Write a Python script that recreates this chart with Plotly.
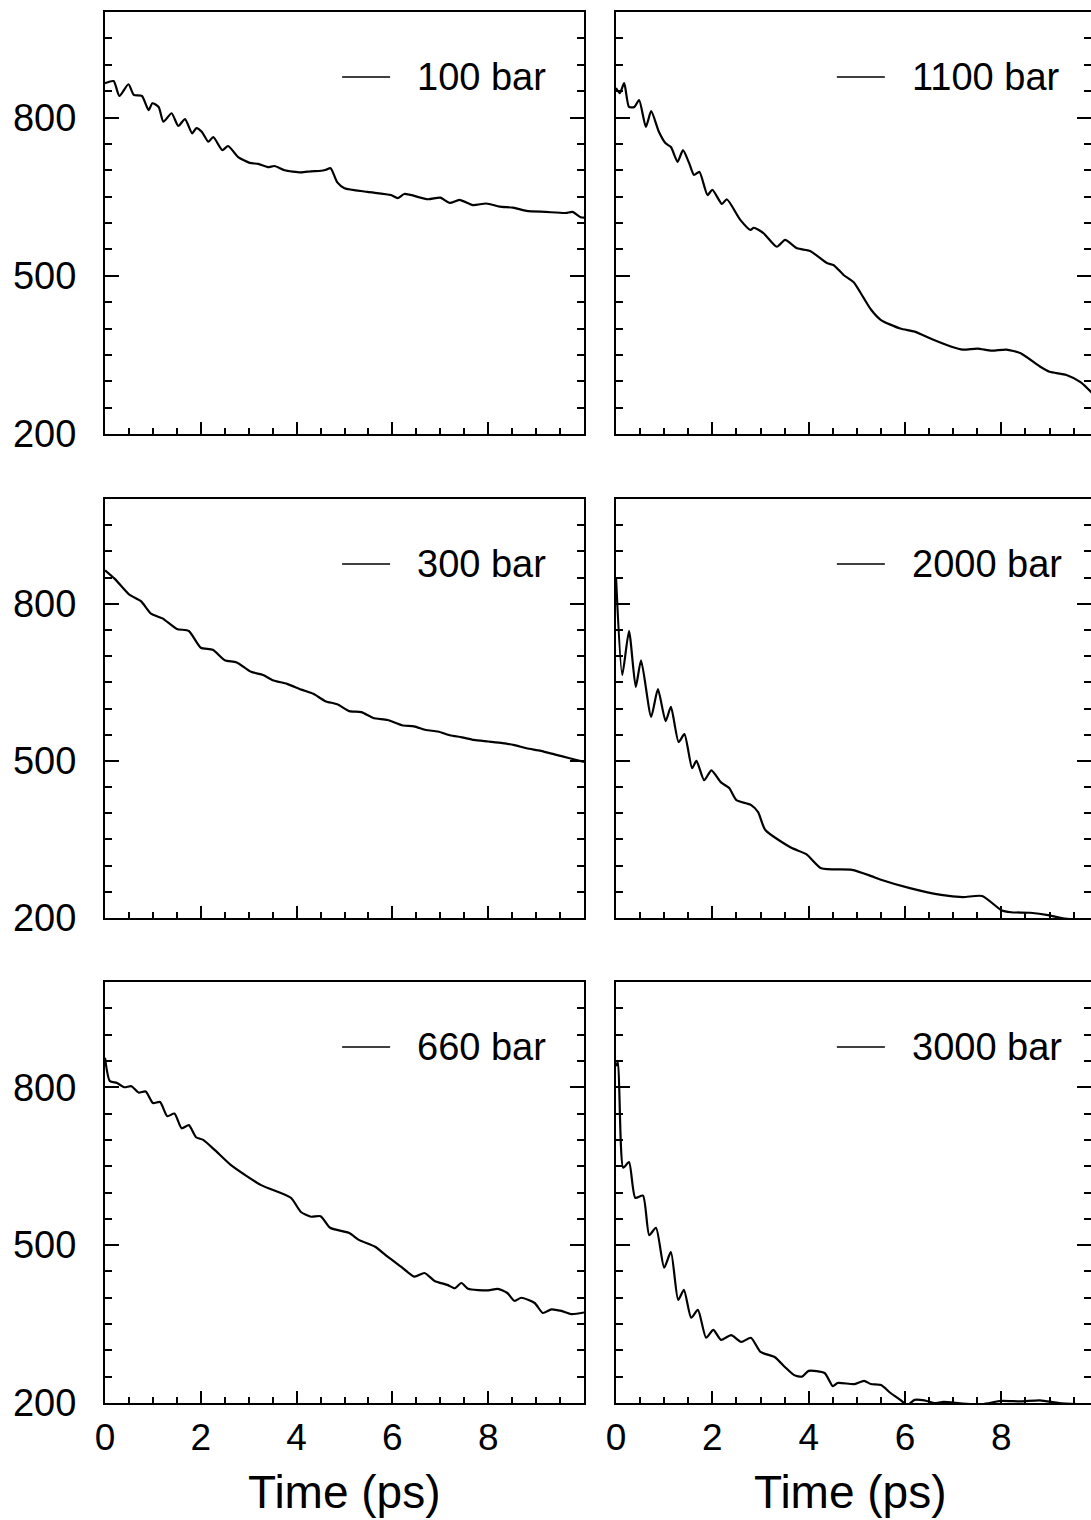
import plotly.graph_objects as go

# ---------------- data ----------------
P100_T = [0, 0.18, 0.3, 0.49, 0.6, 0.77, 0.91, 0.99, 1.12, 1.22, 1.39, 1.53, 1.67, 1.82, 1.91, 2.02,
          2.16, 2.26, 2.45, 2.57, 2.78, 3.02, 3.2, 3.4, 3.54, 3.75, 4.09, 4.3, 4.51, 4.61, 4.71, 4.85,
          5.0, 5.48, 5.97, 6.11, 6.25, 6.74, 7.0, 7.2, 7.4, 7.68, 7.96, 8.24, 8.52, 8.8, 9.2, 9.62,
          9.76, 9.93, 10.0]
P100_V = [865, 869, 841, 863, 843, 841, 814, 827, 820, 792, 808, 784, 797, 770, 780, 773,
          754, 763, 738, 746, 725, 714, 712, 706, 708, 700, 696, 698, 699, 701, 704, 677,
          666, 659, 653, 647, 655, 645, 648, 638, 644, 634, 637, 631, 629, 623, 621, 619,
          621, 611, 610]

P1100_T = [0, 0.08, 0.17, 0.27, 0.38, 0.48, 0.62, 0.73, 0.89, 1.03, 1.14, 1.28, 1.39, 1.52, 1.62,
           1.73, 1.9, 2.0, 2.2, 2.3, 2.58, 2.79, 2.86, 3.06, 3.34, 3.51, 3.76, 4.03, 4.38, 4.52,
           4.73, 4.93, 5.14, 5.3, 5.5, 5.9, 6.2, 6.55, 6.95, 7.2, 7.5, 7.8, 8.1, 8.4, 8.8, 9.0,
           9.35, 9.65, 9.9]
P1100_V = [856, 846, 865, 820, 820, 833, 782, 812, 773, 751, 744, 716, 738, 713, 691,
           697, 653, 663, 636, 645, 606, 587, 591, 581, 555, 568, 552, 547, 524, 520,
           501, 488, 458, 435, 416, 400, 394, 380, 366, 360, 362, 358, 360, 353, 328, 318,
           312, 298, 276]

P300_T = [0, 0.2, 0.5, 0.75, 0.96, 1.2, 1.5, 1.75, 2.0, 2.25, 2.5, 2.75, 3.05, 3.3, 3.5, 3.8,
          4.1, 4.35, 4.6, 4.85, 5.1, 5.35, 5.6, 5.9, 6.2, 6.45, 6.7, 6.95, 7.2, 7.45, 7.7, 8.0,
          8.3, 8.55, 8.8, 9.1, 9.4, 9.7, 10.0]
P300_V = [864, 848, 818, 805, 781, 772, 752, 748, 716, 712, 692, 688, 670, 664, 654, 647,
          636, 628, 614, 608, 595, 593, 582, 578, 568, 566, 559, 556, 549, 545, 540, 537,
          534, 530, 524, 519, 512, 505, 498]

P2000_T = [0, 0.13, 0.27, 0.41, 0.52, 0.73, 0.87, 1.03, 1.14, 1.3, 1.42, 1.58, 1.67, 1.83, 1.98,
           2.18, 2.35, 2.5, 2.8, 2.95, 3.1, 3.64, 3.95, 4.26, 4.9, 5.3, 5.5, 6.1, 6.75, 7.2, 7.6,
           8.0, 8.2, 8.6, 9.0, 9.25, 9.9]
P2000_V = [851, 664, 748, 641, 692, 584, 637, 576, 603, 536, 551, 486, 500, 463, 482,
           459, 448, 425, 416, 402, 368, 334, 322, 295, 292, 280, 273, 257, 244, 240, 242,
           215, 211, 210, 205, 200, 193]

P660_T = [0, 0.1, 0.25, 0.4, 0.55, 0.7, 0.85, 1.0, 1.15, 1.3, 1.45, 1.6, 1.75, 1.9, 2.05, 2.3,
          2.63, 3.26, 3.88, 4.09, 4.3, 4.5, 4.7, 5.1, 5.3,
          5.64, 5.9, 6.18, 6.46, 6.67, 6.88, 7.16, 7.3, 7.44, 7.58, 8.0, 8.2, 8.4, 8.55, 8.69,
          8.97, 9.14, 9.32, 9.53, 9.74, 10.0]
P660_V = [856, 812, 808, 800, 802, 790, 792, 770, 772, 745, 750, 722, 728, 705, 700, 680,
          652, 614, 590, 563, 554, 555, 533, 523, 510,
          497, 478, 459, 440, 447, 432, 424, 418, 428, 417, 414, 417, 409, 394, 400,
          390, 371, 378, 375, 369, 372]

P3000_T = [0, 0.04, 0.15, 0.27, 0.4, 0.56, 0.69, 0.83, 1.0, 1.14, 1.29, 1.41, 1.56, 1.7, 1.87,
           2.02, 2.18, 2.39, 2.6, 2.8, 3.0, 3.3, 3.5, 3.7, 3.86, 4.0, 4.33, 4.5, 4.6, 4.95,
           5.15, 5.29, 5.5, 5.7, 5.9, 6.05, 6.2, 6.4, 6.6, 6.8, 7.2, 7.6, 8.0, 8.4, 8.8, 9.2,
           9.6, 9.9]
P3000_V = [840, 848, 647, 658, 590, 594, 519, 533, 457, 487, 396, 415, 362, 377, 324,
           339, 320, 329, 316, 324, 297, 287, 269, 253, 250, 261, 257, 232, 238, 236,
           242, 236, 234, 219, 206, 196, 206, 205, 200, 202, 199, 198, 204, 203, 205, 200,
           198, 197]

SERIES = [
    ("100 bar", P100_T, P100_V),
    ("1100 bar", P1100_T, P1100_V),
    ("300 bar", P300_T, P300_V),
    ("2000 bar", P2000_T, P2000_V),
    ("660 bar", P660_T, P660_V),
    ("3000 bar", P3000_T, P3000_V),
]

Y_TICKS = [200, 500, 800]
X_TICKS = [0, 2, 4, 6, 8]
X_TITLE = "Time (ps)"

# ---------------- layout ----------------
W, H = 1091, 1520
FONT = "Liberation Sans, Arial, Helvetica, sans-serif"
COLS = [(105, 584, 10.0), (616, 1091, 9.86)]   # px left, px right, x max
ROWS = [(12, 434), (499, 918), (982, 1403)]    # px top, px bottom

fig = go.Figure()
layout = dict(template="none", width=W, height=H, margin=dict(l=0, r=0, t=0, b=0, pad=0),
              autosize=False,
              paper_bgcolor="white", plot_bgcolor="white", showlegend=False,
              font=dict(family=FONT, color="black"))
shapes = []
annotations = []

for i, (name, t, v) in enumerate(SERIES):
    r, c = divmod(i, 2)
    k = i + 1
    xa = "xaxis" if k == 1 else f"xaxis{k}"
    ya = "yaxis" if k == 1 else f"yaxis{k}"
    xr = "x" if k == 1 else f"x{k}"
    yr = "y" if k == 1 else f"y{k}"
    x0, x1, xmax = COLS[c]
    y0, y1 = ROWS[r]
    fig.add_trace(go.Scatter(x=t, y=v, mode="lines", name=name,
                             line=dict(color="black", width=2.2, shape="spline", smoothing=0.6),
                             xaxis=xr, yaxis=yr, cliponaxis=True))
    bottom = (r == 2)
    layout[xa] = dict(domain=[x0 / W, x1 / W], range=[0, xmax], anchor=yr, automargin=False,
                      showline=True, linecolor="black", linewidth=2, mirror=True,
                      showgrid=False, zeroline=False,
                      ticks="inside", ticklen=12, tickwidth=1.5, tickcolor="black",
                      tickvals=X_TICKS, showticklabels=bottom,
                      tickfont=dict(size=37, family=FONT, color="black"), ticklabelstandoff=1,
                      minor=dict(ticks="inside", ticklen=6, tickwidth=1.5, tickcolor="black",
                                 dtick=0.5, tick0=0, showgrid=False))
    layout[ya] = dict(domain=[1 - y1 / H, 1 - y0 / H], range=[200, 1000], anchor=xr, automargin=False,
                      showline=True, linecolor="black", linewidth=2, mirror="ticks",
                      showgrid=False, zeroline=False,
                      ticks="inside", ticklen=14, tickwidth=1.5, tickcolor="black",
                      tickvals=Y_TICKS, showticklabels=(c == 0),
                      tickfont=dict(size=38, family=FONT, color="black"), ticklabelstandoff=19,
                      minor=dict(ticks="inside", ticklen=7, tickwidth=1.5, tickcolor="black",
                                 dtick=50, tick0=200, showgrid=False))
    # legend entry (sample line + label) in the top-right corner of each panel
    lx = 0.495 if c == 0 else 0.465
    shapes.append(dict(type="line", xref=f"{xr} domain", yref=f"{yr} domain",
                       x0=lx, x1=lx + 48 / (x1 - x0), y0=1 - 65 / (y1 - y0), y1=1 - 65 / (y1 - y0),
                       line=dict(color="black", width=1.5)))
    annotations.append(dict(text=name, xref=f"{xr} domain", yref=f"{yr} domain",
                            x=lx + 73 / (x1 - x0), y=1 - 65 / (y1 - y0), xanchor="left",
                            yanchor="middle", showarrow=False,
                            font=dict(size=38, family=FONT, color="black")))

for c in range(2):
    x0, x1, _ = COLS[c]
    annotations.append(dict(text=X_TITLE, xref="paper", yref="paper",
                            x=(x0 + x1) / 2 / W - (0.0 if c == 0 else 0.003),
                            y=1 - 1492 / H, xanchor="center", yanchor="middle",
                            showarrow=False, font=dict(size=46, family=FONT, color="black")))

layout["shapes"] = shapes
layout["annotations"] = annotations
fig.update_layout(**layout)
fig.write_html("out.html", config={"displayModeBar": False},
               post_script="document.body.style.margin='0';document.body.style.overflow='hidden';")
